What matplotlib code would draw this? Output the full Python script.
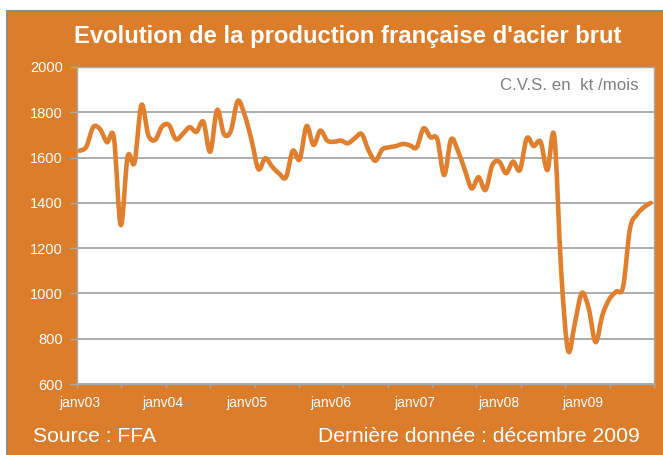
import matplotlib
matplotlib.use("Agg")
import matplotlib.pyplot as plt
from matplotlib.patches import Rectangle, PathPatch
from matplotlib.path import Path
import numpy as np

plt.rcParams['font.family'] = ['Liberation Sans', 'DejaVu Sans']

# ---- data ----
year_labels = ["janv03", "janv04", "janv05", "janv06", "janv07", "janv08", "janv09"]
y_ticks = [600, 800, 1000, 1200, 1400, 1600, 1800, 2000]
# monthly crude steel production (kt/month, SA), Jan 2003 - Dec 2009
production = [
    1630, 1648, 1735, 1725, 1668, 1688, 1302, 1604, 1578, 1832, 1700, 1678,   # 2003
    1737, 1744, 1681, 1704, 1734, 1714, 1758, 1626, 1810, 1704, 1718, 1850,   # 2004
    1788, 1678, 1549, 1597, 1560, 1530, 1513, 1630, 1592, 1739, 1656, 1719,   # 2005
    1675, 1670, 1675, 1663, 1685, 1704, 1633, 1586, 1636, 1645, 1651, 1660,   # 2006
    1654, 1645, 1729, 1690, 1681, 1523, 1680, 1630, 1545, 1464, 1513, 1457,   # 2007
    1567, 1582, 1531, 1582, 1545, 1685, 1651, 1670, 1545, 1695, 1100, 748,    # 2008
    870, 1002, 934, 785, 905, 975, 1008, 1030, 1286, 1348, 1380, 1400,        # 2009
]

ORANGE = '#DB7D2B'
LINE = '#E0802E'
GRID = '#a0a0a0'

fig = plt.figure(figsize=(6.63, 4.55), dpi=100)
fig.patch.set_facecolor('white')
fig.patches.append(Rectangle((6.5 / 663, -0.1), 1.2, 1.1 - 11.5 / 455,
                             transform=fig.transFigure, facecolor=ORANGE,
                             edgecolor='#8c8c8c', lw=1.5, zorder=-10))

ax = fig.add_axes([77 / 663, 71 / 455, 577 / 663, 317 / 455])
ax.set_facecolor('white')

# smoothed line (spreadsheet-style Bezier smoothing through the monthly points)
x = np.arange(len(production), dtype=float)
y = np.asarray(production, dtype=float)
pts = np.column_stack([x, y])
ext = np.vstack([pts[0], pts, pts[-1]])
verts = [pts[0]]
codes = [Path.MOVETO]
for i in range(len(pts) - 1):
    p0, p1, p2, p3 = ext[i], ext[i + 1], ext[i + 2], ext[i + 3]
    c1 = p1 + (p2 - p0) / 6.0
    c2 = p2 - (p3 - p1) / 6.0
    verts += [c1, c2, p2]
    codes += [Path.CURVE4] * 3
ax.add_patch(PathPatch(Path(verts, codes), facecolor='none', edgecolor=LINE,
                       lw=3.3, joinstyle='round', capstyle='round', zorder=3))

ax.set_xlim(-0.36, 82.9)
ax.set_ylim(600, 2000)
ax.set_yticks(y_ticks)
ax.yaxis.grid(True, color=GRID, lw=1.2)
ax.set_axisbelow(True)

ax.set_xticks(np.arange(len(year_labels)) * 12.2)
ax.set_xticklabels(year_labels)
ax.set_xticks(-0.36 + 6.45 * np.arange(14), minor=True)
ax.tick_params(axis='x', which='major', length=0, pad=9, labelsize=10, labelcolor='white')
ax.tick_params(axis='x', which='minor', length=3, color='#a8a8a8', width=1)
ax.tick_params(axis='y', length=5, color='#a8a8a8', width=1, pad=5,
               labelsize=10.5, labelcolor='white')
for s in ax.spines.values():
    s.set_color('#a8a8a8')
    s.set_linewidth(1)

ax.text(0.974, 0.943, "C.V.S. en  kt /mois", transform=ax.transAxes,
        ha='right', va='center', fontsize=12.2, color='#7f7f7f')

fig.text(348 / 663, 1 - 36 / 455, "Evolution de la production française d'acier brut",
         ha='center', va='center', fontsize=17.2, fontweight='bold', color='white')
fig.text(33 / 663, 1 - 437 / 455, "Source : FFA", ha='left', va='center',
         fontsize=15.2, color='white')
fig.text(640 / 663, 1 - 437 / 455, "Dernière donnée : décembre 2009", ha='right',
         va='center', fontsize=15.2, color='white')

fig.savefig("out.png", dpi=100, facecolor=fig.get_facecolor())
